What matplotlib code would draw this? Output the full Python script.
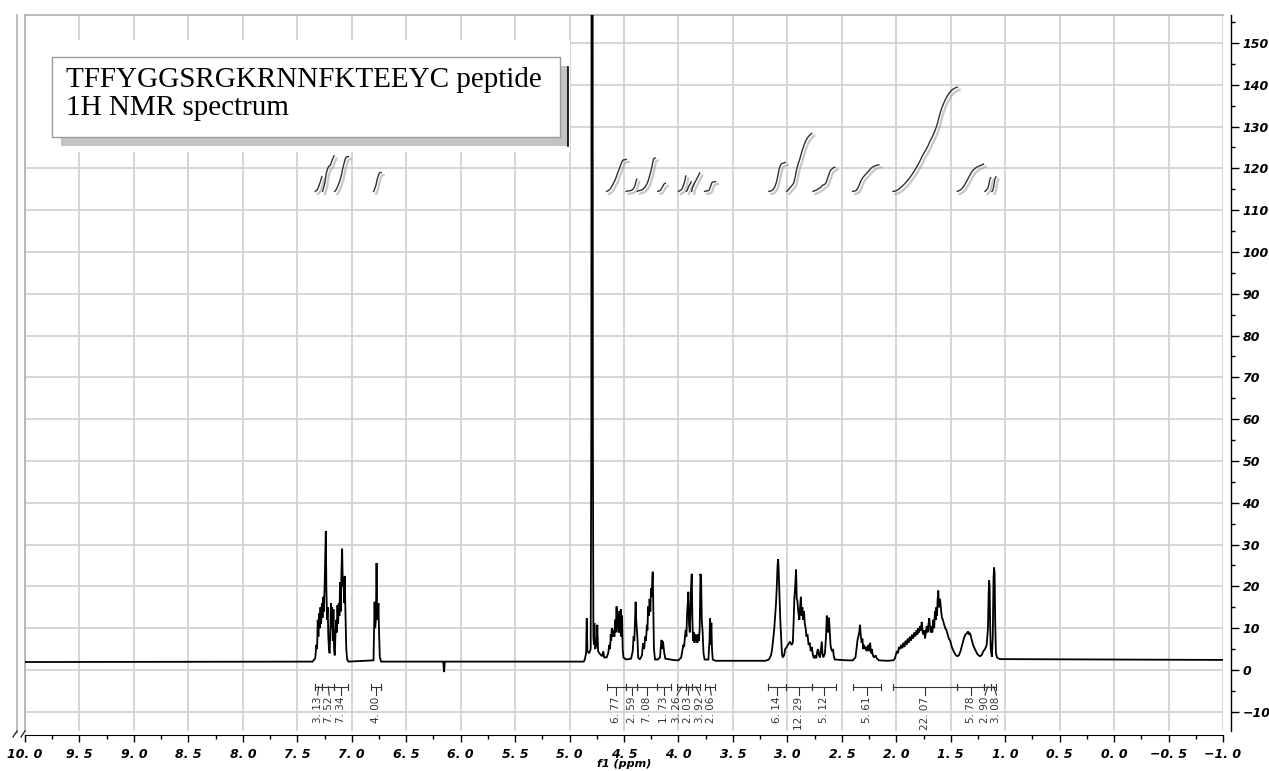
import numpy as np
import matplotlib
matplotlib.use("Agg")
import matplotlib.pyplot as plt
from matplotlib.ticker import MultipleLocator, FuncFormatter
import matplotlib.patheffects as pe
from matplotlib.patches import Rectangle
from matplotlib.lines import Line2D

# ---------------- data ----------------
title_lines = ["TFFYGGSRGKRNNFKTEEYC peptide", "1H NMR spectrum"]
x_label = "f1 (ppm)"

seg_aromatic_ppm = [10.0, 7.36, 7.335, 7.325, 7.318, 7.312, 7.306, 7.300, 7.294, 7.287, 7.281, 7.274, 7.268,
                    7.262, 7.256, 7.249, 7.243, 7.238, 7.233, 7.227, 7.221, 7.215, 7.209, 7.203, 7.197, 7.191,
                    7.186, 7.180, 7.174, 7.168, 7.162, 7.156, 7.150, 7.143, 7.137, 7.131, 7.125, 7.119, 7.113,
                    7.107, 7.101, 7.094, 7.088, 7.082, 7.076, 7.070, 7.064, 7.058, 7.050, 7.042, 7.03]
seg_aromatic_int = [1.9, 2.0, 2.8, 6.0, 5.0, 12.0, 8.0, 13.5, 10.0, 15.0, 11.0, 16.0, 12.5,
                    17.5, 14.0, 20.0, 27.0, 33.2, 20.0, 12.0, 15.0, 8.0, 5.0, 4.0, 9.0, 16.0,
                    10.0, 15.0, 7.0, 14.5, 5.0, 3.5, 8.0, 12.0, 9.0, 15.5, 11.0, 16.0, 13.0,
                    21.0, 14.0, 24.0, 29.0, 20.0, 22.0, 16.0, 22.5, 14.0, 5.0, 2.5, 2.0]

seg_dd_ppm = [6.80, 6.795, 6.790, 6.785, 6.778, 6.772, 6.767, 6.760, 6.755, 6.749, 6.742, 6.73,
              6.16, 6.152, 6.145, 4.87]
seg_dd_int = [2.3, 9.0, 16.3, 10.0, 12.0, 25.6, 14.0, 12.0, 16.0, 9.0, 3.0, 2.0,
              2.0, -0.5, 2.0, 2.0]

seg_water_ppm = [4.86, 4.848, 4.842, 4.836, 4.82, 4.806, 4.800, 4.797, 4.789, 4.786, 4.781, 4.776,
                 4.772, 4.765, 4.752, 4.745, 4.738, 4.72, 4.70, 4.690, 4.682, 4.66]
seg_water_int = [2.5, 4.0, 12.4, 4.5, 4.0, 5.0, 60.0, 220.0, 220.0, 60.0, 8.0, 6.0,
                 11.2, 5.0, 6.0, 10.8, 4.5, 3.8, 3.3, 4.4, 3.0, 3.0]

seg_h46_ppm = [4.645, 4.635, 4.628, 4.622, 4.617, 4.612, 4.607, 4.595, 4.588, 4.582, 4.576, 4.568,
               4.562, 4.556, 4.550, 4.544, 4.538, 4.530, 4.524, 4.518, 4.512, 4.505, 4.48]
seg_h46_int = [4.0, 6.0, 5.0, 8.5, 7.0, 10.0, 8.0, 9.6, 8.0, 12.0, 9.0, 15.2,
               10.0, 13.6, 9.0, 14.0, 9.0, 14.5, 8.0, 13.0, 5.0, 3.0, 2.5]

seg_h44_ppm = [4.435, 4.42, 4.412, 4.405, 4.398, 4.393, 4.388, 4.383, 4.376, 4.37, 4.355]
seg_h44_int = [2.7, 4.5, 8.0, 7.0, 12.0, 16.3, 12.0, 10.0, 7.5, 3.0, 2.5]

seg_h42_ppm = [4.335, 4.325, 4.315, 4.305, 4.298, 4.29, 4.285, 4.278, 4.272, 4.265, 4.258, 4.252,
               4.246, 4.240, 4.236, 4.231, 4.225, 4.215]
seg_h42_int = [3.5, 6.4, 5.0, 8.0, 7.0, 10.8, 9.5, 15.2, 13.0, 17.0, 14.0, 19.5,
               17.5, 22.0, 23.5, 15.0, 5.0, 2.5]

seg_h41_ppm = [4.19, 4.17, 4.162, 4.155, 4.149, 4.142, 4.136, 4.13, 4.12, 4.05, 4.00]
seg_h41_int = [2.5, 3.0, 5.5, 7.2, 5.0, 6.8, 5.5, 4.0, 2.7, 2.4, 2.3]

seg_h39_ppm = [3.975, 3.965, 3.955, 3.948, 3.940, 3.933, 3.927, 3.920, 3.914, 3.909, 3.903, 3.896,
               3.890, 3.884, 3.878, 3.872, 3.866, 3.860, 3.853, 3.846, 3.840, 3.833, 3.826, 3.820,
               3.812, 3.805, 3.798, 3.792, 3.786, 3.778, 3.770, 3.760]
seg_h39_int = [3.0, 4.5, 6.0, 5.5, 8.0, 9.6, 8.0, 14.0, 16.0, 18.7, 11.0, 9.0,
               14.0, 20.0, 23.0, 12.0, 7.0, 9.0, 6.5, 8.5, 7.0, 8.4, 6.5, 8.5,
               7.0, 10.0, 23.0, 22.0, 12.0, 9.0, 4.0, 2.5]

seg_h37_ppm = [3.725, 3.715, 3.710, 3.704, 3.698, 3.692, 3.685, 3.66, 3.20]
seg_h37_int = [2.5, 7.0, 12.4, 6.0, 11.3, 5.0, 2.5, 2.2, 2.2]

seg_h31_ppm = [3.17, 3.15, 3.14, 3.129, 3.12, 3.11, 3.104, 3.097, 3.090, 3.085, 3.080, 3.073,
               3.065, 3.058, 3.050, 3.042, 3.030, 3.020, 3.006, 2.990, 2.975, 2.962, 2.950]
seg_h31_int = [2.5, 3.5, 5.0, 7.6, 10.0, 14.0, 16.0, 20.0, 25.0, 26.5, 24.0, 18.0,
               12.0, 8.0, 4.0, 3.0, 3.5, 5.0, 5.5, 6.2, 6.8, 6.0, 6.5]

seg_h29_ppm = [2.942, 2.936, 2.928, 2.920, 2.914, 2.908, 2.900, 2.890, 2.883, 2.876, 2.869, 2.862,
               2.855, 2.847, 2.840, 2.832, 2.825, 2.815, 2.805, 2.795, 2.785, 2.776, 2.765, 2.755]
seg_h29_int = [12.0, 17.0, 20.0, 24.0, 17.0, 16.6, 14.0, 12.0, 15.0, 17.5, 13.0, 15.0,
               12.0, 14.0, 11.0, 10.0, 8.0, 8.5, 6.0, 6.5, 4.5, 5.5, 3.5, 2.8]

seg_h26_ppm = [2.745, 2.735, 2.725, 2.718, 2.710, 2.700, 2.692, 2.684, 2.678, 2.670, 2.655, 2.645,
               2.638, 2.632, 2.626, 2.618, 2.612, 2.604, 2.597, 2.590, 2.580, 2.575, 2.565, 2.45]
seg_h26_int = [3.5, 2.8, 4.5, 5.0, 3.5, 3.0, 5.0, 6.8, 4.0, 3.0, 4.0, 8.0,
               13.0, 12.0, 9.0, 12.5, 10.0, 6.0, 5.0, 4.5, 5.0, 3.5, 2.5, 2.3]

seg_h23_ppm = [2.40, 2.375, 2.365, 2.357, 2.340, 2.333, 2.325, 2.318, 2.311, 2.304, 2.296, 2.288,
               2.280, 2.272, 2.264, 2.256, 2.248, 2.240, 2.232, 2.225, 2.215, 2.205, 2.19, 2.18,
               2.16, 2.08, 2.03]
seg_h23_int = [2.3, 3.0, 5.0, 7.0, 9.0, 10.8, 8.0, 6.5, 7.5, 5.0, 6.0, 5.0,
               5.5, 4.5, 5.5, 6.0, 4.5, 6.5, 4.0, 5.0, 3.5, 3.0, 3.5, 2.8,
               2.3, 2.2, 2.3]

seg_h17_ppm = [2.015, 2.005, 1.995, 1.985, 1.975, 1.965, 1.955, 1.945, 1.935, 1.925, 1.915, 1.905,
               1.895, 1.885, 1.875, 1.865, 1.855, 1.845, 1.835, 1.825, 1.815, 1.805, 1.797, 1.790,
               1.782, 1.775, 1.766, 1.758, 1.750, 1.742, 1.736, 1.728, 1.720, 1.712, 1.704, 1.697,
               1.690, 1.683, 1.676, 1.669, 1.660, 1.652, 1.645, 1.638, 1.632, 1.626, 1.620, 1.614,
               1.608, 1.602, 1.596, 1.588, 1.580, 1.572, 1.562, 1.550, 1.539, 1.528, 1.517, 1.505,
               1.490, 1.474, 1.455, 1.440]
seg_h17_int = [2.6, 3.5, 4.5, 4.0, 5.5, 5.0, 6.0, 5.2, 6.5, 5.5, 7.0, 6.0,
               7.5, 6.5, 8.0, 7.0, 8.5, 7.5, 9.0, 8.0, 9.5, 8.5, 10.0, 9.0,
               10.5, 9.5, 11.5, 9.0, 8.5, 9.5, 7.5, 9.0, 10.5, 9.0, 11.0, 12.4,
               10.0, 9.0, 10.5, 9.0, 12.0, 10.0, 14.0, 12.0, 15.0, 13.0, 17.0, 19.0,
               15.0, 17.0, 16.5, 14.0, 12.5, 12.0, 11.0, 10.0, 9.5, 8.5, 7.5, 7.0,
               5.5, 4.5, 3.6, 3.3]

seg_h13_ppm = [1.425, 1.41, 1.395, 1.38, 1.365, 1.350, 1.340, 1.332, 1.322, 1.310, 1.295, 1.275,
               1.255, 1.240, 1.230, 1.215, 1.200, 1.185, 1.170, 1.158, 1.152, 1.148, 1.143, 1.139,
               1.133, 1.122, 1.114, 1.107, 1.102, 1.097, 1.092, 1.085, 1.075, 1.05, -1.0]
seg_h13_int = [3.5, 4.5, 6.0, 7.5, 8.5, 8.8, 9.2, 8.6, 8.8, 7.5, 6.0, 4.8,
               3.8, 3.4, 3.3, 3.6, 4.5, 5.0, 6.0, 10.0, 18.0, 21.4, 20.0, 12.0,
               5.0, 3.2, 8.0, 22.0, 24.5, 23.0, 12.0, 4.0, 3.0, 2.6, 2.4]

# integration regions
int_from = [7.34, 7.27, 7.16, 6.82, 4.66, 4.48, 4.38, 4.20, 4.01, 3.93, 3.88, 3.76,
            3.18, 3.01, 2.77, 2.40, 2.03, 1.44, 1.19, 1.13]
int_to = [7.27, 7.16, 7.03, 6.73, 4.48, 4.38, 4.20, 4.07, 3.93, 3.88, 3.80, 3.66,
          3.01, 2.77, 2.55, 2.14, 1.44, 1.19, 1.13, 1.08]
int_values = [3.13, 7.52, 7.34, 4.00, 6.77, 2.59, 7.08, 1.73, 3.26, 2.03, 3.92, 2.06,
              6.14, 12.29, 5.12, 5.61, 22.07, 5.78, 2.90, 3.08]

# ---------------- assemble spectrum ----------------
segs_ppm = [seg_aromatic_ppm, seg_dd_ppm, seg_water_ppm, seg_h46_ppm, seg_h44_ppm, seg_h42_ppm,
            seg_h41_ppm, seg_h39_ppm, seg_h37_ppm, seg_h31_ppm, seg_h29_ppm, seg_h26_ppm,
            seg_h23_ppm, seg_h17_ppm, seg_h13_ppm]
segs_int = [seg_aromatic_int, seg_dd_int, seg_water_int, seg_h46_int, seg_h44_int, seg_h42_int,
            seg_h41_int, seg_h39_int, seg_h37_int, seg_h31_int, seg_h29_int, seg_h26_int,
            seg_h23_int, seg_h17_int, seg_h13_int]
for a, b in zip(segs_ppm, segs_int):
    assert len(a) == len(b), (len(a), len(b), a[0])
ppm = np.concatenate([np.asarray(s, float) for s in segs_ppm])
inten = np.concatenate([np.asarray(s, float) for s in segs_int])

W, H = 1269, 771
fig = plt.figure(figsize=(W / 100, H / 100), dpi=100)
fig.patch.set_facecolor("white")
ax = fig.add_axes([25 / W, 40 / H, 1198 / W, 716 / H])
ax.set_xlim(10.0, -1.0)
ax.set_ylim(-14.6, 156.7)

# grid
ax.xaxis.set_major_locator(MultipleLocator(0.5))
ax.xaxis.set_minor_locator(MultipleLocator(0.25))
ax.yaxis.set_major_locator(MultipleLocator(10))
ax.yaxis.set_minor_locator(MultipleLocator(5))
ax.grid(True, which="major", color="#cfcfcf", lw=1.2, zorder=0)
ax.set_axisbelow(True)

# spectrum
ax.plot(ppm, inten, color="black", lw=1.3, zorder=3, solid_joinstyle="miter")

# integral curves
base_level = 114.5
rise_per_unit = 1.13
baseline = 2.0
shadow = [pe.SimpleLineShadow(offset=(1.8, -1.8), shadow_color="#999999", alpha=0.55, linewidth=1.6),
          pe.Normal()]
for a, b, v in zip(int_from, int_to, int_values):
    m = (ppm <= a) & (ppm >= b)
    xs = ppm[m]
    ys = np.clip(inten[m] - baseline, 0, None)
    if len(xs) < 2:
        continue
    cum = np.concatenate([[0.0], np.cumsum(0.5 * (ys[1:] + ys[:-1]) * np.abs(np.diff(xs)))])
    if cum[-1] <= 0:
        continue
    yc = base_level + v * rise_per_unit * cum / cum[-1]
    ax.plot(xs, yc, color="#303030", lw=1.0, zorder=4, path_effects=shadow)

# integration bars and labels
bar_y = -4.0
tick_h = 0.7
centers = [(a + b) / 2 for a, b in zip(int_from, int_to)]
lab = list(centers)
min_gap = 0.105
for _ in range(400):
    moved = False
    for i in range(len(lab) - 1):
        gap = lab[i] - lab[i + 1]
        if gap < min_gap:
            d = (min_gap - gap) / 2
            lab[i] += d
            lab[i + 1] -= d
            moved = True
    if not moved:
        break
for a, b, v, c, lx in zip(int_from, int_to, int_values, centers, lab):
    ax.plot([a, b], [bar_y, bar_y], color="#333333", lw=0.8, zorder=4)
    ax.plot([a, a], [bar_y - tick_h, bar_y + tick_h], color="#333333", lw=0.8, zorder=4)
    ax.plot([b, b], [bar_y - tick_h, bar_y + tick_h], color="#333333", lw=0.8, zorder=4)
    ax.plot([c, lx], [bar_y, -6.0], color="#333333", lw=0.8, zorder=4)
    ax.text(lx, -6.4, f"{v:.2f}".replace(".", ". "), rotation=90, ha="center", va="top",
            fontsize=7.5, color="#333333", family="DejaVu Sans", zorder=5)

# axes styling
for s in ["left", "top"]:
    ax.spines[s].set_color("#b0b0b0")
    ax.spines[s].set_linewidth(1.2)
ax.spines["bottom"].set_position(("outward", 3))
ax.spines["bottom"].set_color("black")
ax.spines["right"].set_position(("outward", 6))
ax.spines["right"].set_color("black")
ax.spines["right"].set_linewidth(1.0)

ax.yaxis.tick_right()
ax.tick_params(axis="y", which="major", length=6, width=1, direction="out", pad=2,
               labelsize=9, right=True, left=False)
ax.tick_params(axis="y", which="minor", length=3, width=1, direction="out", right=True, left=False)
ax.tick_params(axis="x", which="major", length=5, width=1, direction="out", pad=4, labelsize=9)
ax.tick_params(axis="x", which="minor", length=3, width=1, direction="out")


def xfmt(v, pos):
    s = f"{v:.1f}".replace(".", ". ")
    return s.replace("-", "\u2212")


def yfmt(v, pos):
    return f"{v:.0f}".replace("-", "\u2212")


ax.xaxis.set_major_formatter(FuncFormatter(xfmt))
ax.yaxis.set_major_formatter(FuncFormatter(yfmt))
for t in ax.get_xticklabels() + ax.get_yticklabels():
    t.set_fontweight("bold")
    t.set_fontstyle("italic")
ax.set_xlabel(x_label, fontsize=8, fontweight="bold", fontstyle="italic", labelpad=-1)


def fx(x):
    return x / W


def fy(y):
    return 1 - y / H


# outer left frame line and break marks
fig.add_artist(Line2D([fx(17), fx(17)], [fy(15), fy(733)], color="#b0b0b0", lw=1.2))
fig.add_artist(Line2D([fx(13), fx(17)], [fy(737), fy(731)], color="black", lw=0.8))
fig.add_artist(Line2D([fx(21), fx(25)], [fy(737), fy(731)], color="black", lw=0.8))

# title box
fig.add_artist(Rectangle((fx(26), fy(152)), (570 - 26) / W, 112 / H, facecolor="white",
                         edgecolor="none", zorder=10))
fig.add_artist(Rectangle((fx(61), fy(146)), (568 - 61) / W, 80 / H, facecolor="#c4c4c4",
                         edgecolor="none", zorder=11))
fig.add_artist(Line2D([fx(568), fx(568)], [fy(67), fy(146)], color="black", lw=1.2, zorder=12))
fig.add_artist(Rectangle((fx(52), fy(137)), (560 - 52) / W, 80 / H, facecolor="white",
                         edgecolor="#999999", lw=1.0, zorder=13))
fig.text(fx(66), fy(67), "\n".join(title_lines), ha="left", va="top", fontsize=21,
         family="Liberation Serif", linespacing=1.12, zorder=14)

fig.savefig("out.png", dpi=100)
